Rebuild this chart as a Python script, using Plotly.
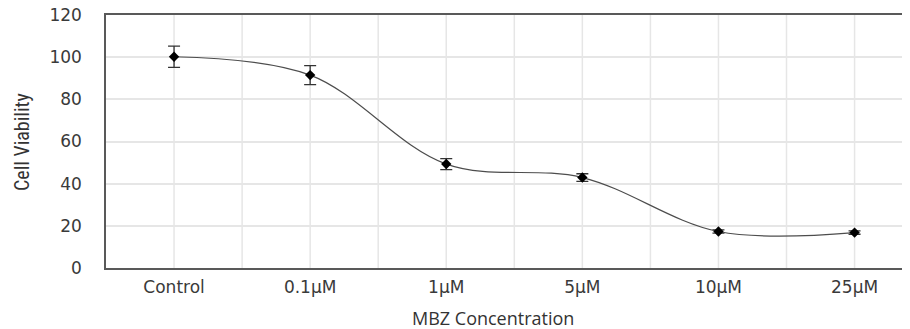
import plotly.graph_objects as go

categories = ["Control", "0.1µM", "1µM", "5µM", "10µM", "25µM"]
viability = [100.2, 91.5, 49.3, 42.9, 17.3, 16.8]
error = [5.0, 4.5, 2.6, 1.8, 0.8, 0.8]
y_ticks = [0, 20, 40, 60, 80, 100, 120]

xpos = list(range(len(categories)))

# page body has an 8px default margin; compensate so the plot lands where the reference has it
OFF = 8
W, H = 910 - OFF, 329 - OFF
L, T, R, B = 106 - OFF, 15 - OFF, 1, 61
plot_left, plot_right, plot_top, plot_bottom = 106, 909, 15, 268

fig = go.Figure()
fig.add_trace(go.Scatter(
    x=xpos, y=viability,
    mode="lines+markers",
    line=dict(color="#4d4d4d", width=1.2, shape="spline", smoothing=1.0),
    marker=dict(symbol="diamond", size=8, color="#000000"),
    error_y=dict(type="data", array=error, visible=True, color="#333333", thickness=1.3, width=6),
    showlegend=False,
))

tick_font = dict(family="DejaVu Sans, sans-serif", size=17, color="#3a3a3a")

fig.update_layout(
    width=W, height=H,
    margin=dict(l=L, r=R, t=T, b=B),
    paper_bgcolor="white", plot_bgcolor="white",
    xaxis=dict(
        range=[-0.5, 5.4],
        tickmode="array", tickvals=xpos, ticktext=categories,
        tickfont=tick_font,
        showgrid=False, zeroline=False,
        showline=True, linecolor="#595959", linewidth=1.5, mirror=True,
        ticks="", ticklabelstandoff=3, ticklabeloverflow="allow",
        automargin=False,
    ),
    yaxis=dict(
        range=[0, 120],
        tickmode="array", tickvals=y_ticks,
        tickfont=tick_font,
        showgrid=True, gridcolor="#e6e6e6", gridwidth=1.5,
        zeroline=False,
        showline=True, linecolor="#595959", linewidth=1.5, mirror=True,
        ticks="", ticklabelstandoff=19, ticklabeloverflow="allow",
        automargin=False,
    ),
    annotations=[
        dict(text="MBZ Concentration", xref="paper", yref="paper",
             x=(493 - plot_left) / (plot_right - plot_left),
             y=-(318 - plot_bottom) / (plot_bottom - plot_top),
             xanchor="center", yanchor="middle", showarrow=False,
             font=dict(family="Open Sans, sans-serif", size=18, color="#333333")),
        dict(text="Cell Viability", xref="paper", yref="paper",
             x=-(plot_left - 22) / (plot_right - plot_left),
             y=(plot_bottom - 142) / (plot_bottom - plot_top),
             xanchor="center", yanchor="middle", showarrow=False, textangle=-90,
             font=dict(family="Liberation Sans Narrow, Roboto Condensed, Arial Narrow, sans-serif", size=20, color="#333333")),
    ],
)

# vertical gridlines at categories and between categories
shapes = []
for i in range(0, 12):
    xv = i * 0.5
    if -0.5 < xv < 5.4:
        shapes.append(dict(type="line", xref="x", yref="paper", x0=xv, x1=xv, y0=0, y1=1,
                           line=dict(color="#e6e6e6", width=1.5), layer="below"))
fig.update_layout(shapes=shapes)

fig.write_html("out.html")
